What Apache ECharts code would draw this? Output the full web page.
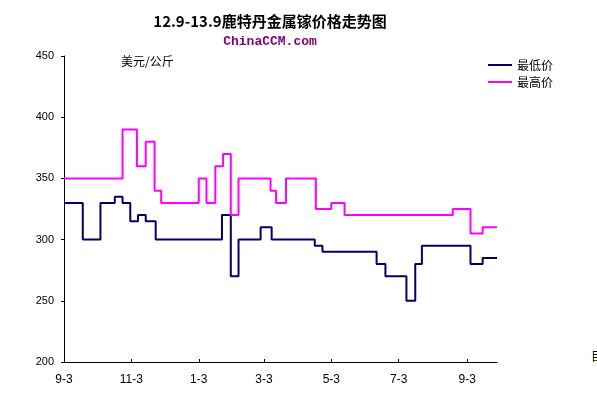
<!DOCTYPE html>
<html>
<head>
<meta charset="utf-8">
<script src="https://cdn.jsdelivr.net/npm/echarts@6/dist/echarts.min.js"></script>
<style>
html,body{margin:0;padding:0;background:#fff;}
#chart{width:597px;height:398px;}
</style>
</head>
<body>
<div id="chart"></div>
<script>
// ---- data (date a price level starts, price in USD/kg) ----
var minDates = ['2012-09-03','2012-09-20','2012-10-06','2012-10-19','2012-10-26','2012-11-02','2012-11-09','2012-11-16','2012-11-25',
  '2013-01-24','2013-02-01','2013-02-08','2013-02-28','2013-03-10','2013-04-18','2013-04-25','2013-06-13','2013-06-21',
  '2013-07-10','2013-07-18','2013-07-24','2013-09-06','2013-09-17','2013-09-30'];
var minValues = [330,300,330,335,330,315,320,315,300,
  320,270,300,310,300,295,290,280,270,
  250,280,295,280,285,285];

var maxDates = ['2012-09-03','2012-10-26','2012-11-08','2012-11-16','2012-11-24','2012-11-30','2013-01-03','2013-01-10','2013-01-18',
  '2013-01-25','2013-02-01','2013-02-08','2013-03-09','2013-03-14','2013-03-23','2013-04-19','2013-05-03','2013-05-15',
  '2013-08-21','2013-09-06','2013-09-17','2013-09-30'];
var maxValues = [350,390,360,380,340,330,350,330,360,
  370,320,350,340,330,350,325,330,320,
  325,305,310,310];

var tickDates = ['2012-09-03','2012-11-03','2013-01-03','2013-03-03','2013-05-03','2013-07-03','2013-09-03'];
var tickLabels = ['9-3','11-3','1-3','3-3','5-3','7-3','9-3'];
var yTicks = [200,250,300,350,400,450];
var seriesNames = ['最低价','最高价'];

function toTime(s){
  var p = s.split('-');
  return Date.UTC(+p[0], +p[1]-1, +p[2]);
}
function pairs(ds, vs){
  return ds.map(function(d,i){ return [toTime(d), vs[i]]; });
}
var tickTimes = tickDates.map(toTime);

var chart = echarts.init(document.getElementById('chart'), null, {renderer:'canvas'});
chart.setOption({
  backgroundColor:'#ffffff',
  animation:false,
  title:[
    {text:'12.9-13.9鹿特丹金属镓价格走势图', left:265, top:9, textAlign:'center',
     textStyle:{fontSize:15, fontWeight:'bold', color:'#000', fontFamily:'"Noto Sans CJK SC", sans-serif'}},
    {text:'ChinaCCM.com', left:265, top:30, textAlign:'center',
     textStyle:{fontSize:13, fontWeight:'bold', color:'#800080', fontFamily:'"Liberation Mono", monospace'}}
  ],
  legend:{
    orient:'vertical', left:488, top:59, padding:0, itemWidth:24, itemHeight:2, itemGap:5, icon:'rect',
    data:seriesNames,
    textStyle:{fontSize:12, color:'#000', fontFamily:'"Noto Sans CJK SC", sans-serif'}
  },
  graphic:[
    {type:'text', left:121, top:55, style:{text:'美元/公斤', fontSize:12, fill:'#000', fontFamily:'"Noto Sans CJK SC", sans-serif'}},
    {type:'text', left:591, top:350, style:{text:'目', fontSize:12, fill:'#000', backgroundColor:'#ffffe8', fontFamily:'"Noto Sans CJK SC", sans-serif'}}
  ],
  grid:{left:64, right:100, top:56, bottom:36, containLabel:false, outerBoundsMode:'none'},
  xAxis:{
    type:'value',
    min:toTime('2012-09-03'),
    max:toTime('2013-09-30'),
    splitLine:{show:false},
    axisLine:{lineStyle:{color:'#000', width:1}},
    axisTick:{show:true, inside:true, length:3, customValues:tickTimes, lineStyle:{color:'#000'}},
    axisLabel:{
      customValues:tickTimes, margin:12, color:'#000', fontSize:12, fontFamily:'"Liberation Sans", Arial, sans-serif',
      formatter:function(v){
        for(var i=0;i<tickTimes.length;i++){ if(Math.abs(tickTimes[i]-v)<43200000) return tickLabels[i]; }
        return '';
      }
    }
  },
  yAxis:{
    type:'value', min:yTicks[0], max:yTicks[yTicks.length-1], interval:50,
    splitLine:{show:false},
    axisLine:{show:true, lineStyle:{color:'#000', width:1}},
    axisTick:{show:true, length:3, lineStyle:{color:'#000'}},
    axisLabel:{margin:10, color:'#000', fontSize:11, fontFamily:'"Liberation Sans", Arial, sans-serif'}
  },
  series:[
    {name:seriesNames[0], type:'line', step:'end', symbol:'none', showSymbol:false,
     data:pairs(minDates, minValues), color:'#000066', lineStyle:{color:'#000066', width:2}},
    {name:seriesNames[1], type:'line', step:'end', symbol:'none', showSymbol:false,
     data:pairs(maxDates, maxValues), color:'#ff00ff', lineStyle:{color:'#ff00ff', width:2}}
  ]
});
</script>
</body>
</html>
